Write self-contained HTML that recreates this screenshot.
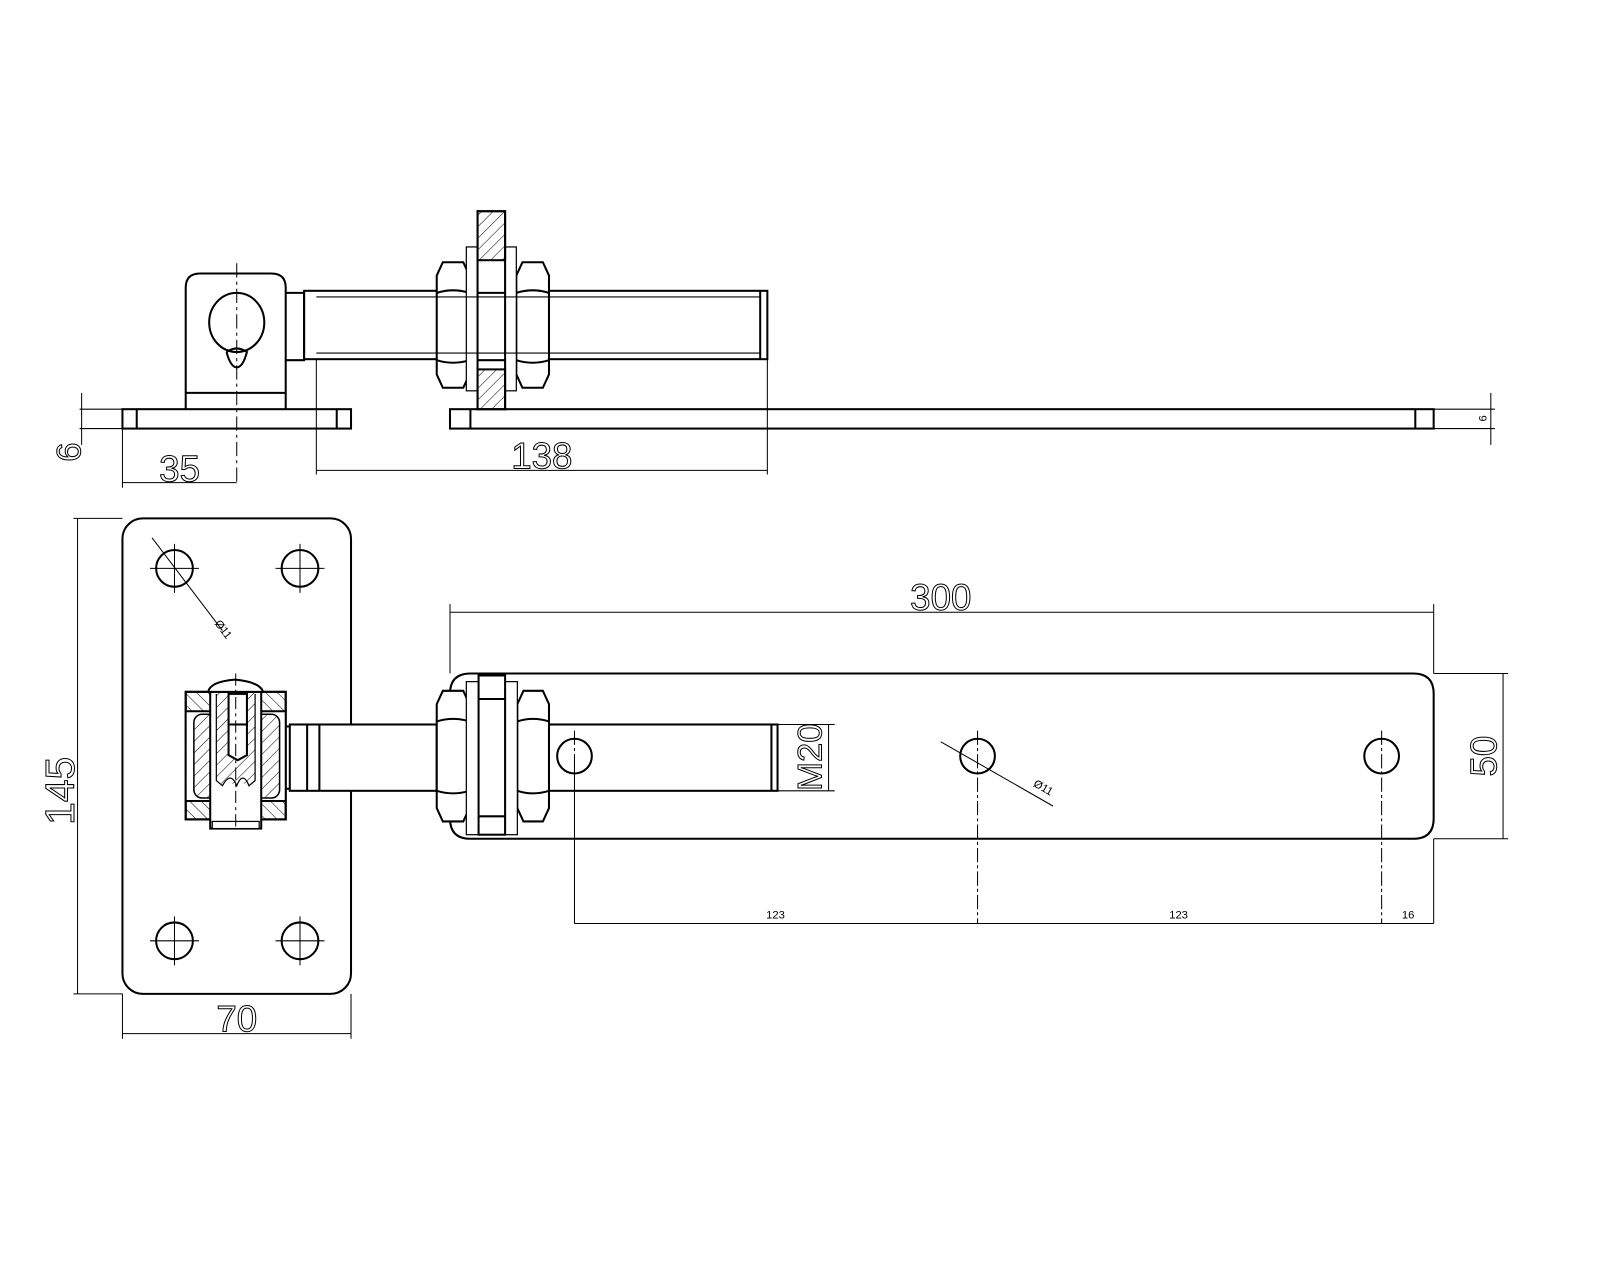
<!DOCTYPE html>
<html><head><meta charset="utf-8"><style>
html,body{margin:0;padding:0;background:#fff;width:1600px;height:1280px;overflow:hidden}
svg{display:block}
text{font-family:"Liberation Sans",sans-serif;fill:none;stroke:#000;stroke-width:1}
.s{fill:#000;stroke:none}
</style></head><body>
<svg width="1600" height="1280" viewBox="0 0 1568 1254.4" xmlns="http://www.w3.org/2000/svg">
<defs>
<pattern id="h" width="8" height="8" patternUnits="userSpaceOnUse" patternTransform="rotate(45)"><line x1="0" y1="0" x2="0" y2="8" stroke="#000" stroke-width="1"/></pattern>
<pattern id="h2" width="8" height="8" patternUnits="userSpaceOnUse" patternTransform="rotate(-45)"><line x1="0" y1="0" x2="0" y2="8" stroke="#000" stroke-width="1"/></pattern>
</defs>
<g fill="none" stroke="#000">
<!-- ===== TOP VIEW ===== -->
<g stroke-width="2">
<rect x="120" y="401" width="224" height="19"/>
<line x1="134" y1="401" x2="134" y2="420"/><line x1="330" y1="401" x2="330" y2="420"/>
<path d="M182 401 V282 Q182 268 196 268 H266 Q280 268 280 282 V401"/>
<line x1="182" y1="385" x2="280" y2="385"/>
<ellipse cx="232" cy="316" rx="27" ry="29"/>
<path d="M222 345 Q232 338 242 345 Q238 360 232 360 Q226 360 222 345"/>
<path d="M280 287 H298 V353 H280"/>
<rect x="298" y="285" width="454" height="67"/>
<line x1="745" y1="285" x2="745" y2="352"/>
<rect x="441" y="401" width="964" height="19"/>
<line x1="461" y1="401" x2="461" y2="420"/><line x1="1387" y1="401" x2="1387" y2="420"/>
<path d="M434 257 H454 L460 270 V367 L454 380 H434 L428 367 V270 Z" fill="#fff"/>
<path d="M428 287 Q444 282 460 287 M428 353 Q444 358 460 353"/>
<path d="M512 257 H532 L538 270 V367 L532 380 H512 L506 367 V270 Z" fill="#fff"/>
<path d="M506 287 Q522 282 538 287 M506 353 Q522 358 538 353"/>
<rect x="457" y="242" width="11" height="141" fill="#fff" stroke-width="1.2"/>
<rect x="495" y="242" width="11" height="141" fill="#fff" stroke-width="1.2"/>
<rect x="468" y="207" width="27" height="194" fill="#fff"/>
<rect x="468" y="207" width="27" height="48" fill="url(#h)"/>
<rect x="468" y="362" width="27" height="39" fill="url(#h)"/>
<line x1="468" y1="287" x2="495" y2="287"/><line x1="468" y1="353" x2="495" y2="353"/>
</g>
<line x1="310" y1="291" x2="745" y2="291" stroke-width="1"/>
<line x1="310" y1="346" x2="745" y2="346" stroke-width="1"/>
<line x1="232" y1="258" x2="232" y2="475" stroke-width="1" stroke-dasharray="14 4 3 4"/>
<g stroke-width="1">
<line x1="78" y1="401" x2="120" y2="401"/><line x1="78" y1="420" x2="120" y2="420"/>
<line x1="80" y1="385" x2="80" y2="436"/>
<line x1="120" y1="420" x2="120" y2="478"/><line x1="120" y1="473" x2="232" y2="473"/>
<line x1="310" y1="352" x2="310" y2="465"/><line x1="752" y1="352" x2="752" y2="465"/>
<line x1="310" y1="461" x2="752" y2="461"/>
<line x1="1405" y1="401" x2="1465" y2="401"/><line x1="1405" y1="420" x2="1465" y2="420"/>
<line x1="1461" y1="385" x2="1461" y2="436"/>
</g>
<text x="70" y="443" font-size="34" transform="rotate(-90 70 443)" text-anchor="middle" dominant-baseline="middle">6</text>
<text x="176" y="472" font-size="36" text-anchor="middle">35</text>
<text x="531" y="459" font-size="36" text-anchor="middle">138</text>
<text x="1454" y="410" font-size="11" transform="rotate(-90 1454 410)" text-anchor="middle" dominant-baseline="middle" class="s">6</text>

<!-- ===== PLAN VIEW ===== -->
<g stroke-width="2">
<rect x="120" y="508" width="224" height="466" rx="20"/>
<circle cx="171" cy="557" r="18"/><circle cx="294" cy="557" r="18"/>
<circle cx="171" cy="922" r="18"/><circle cx="294" cy="922" r="18"/>
<path d="M461 660 H1385 Q1405 660 1405 680 V802 Q1405 822 1385 822 H461 Q441 822 441 802 V680 Q441 660 461 660 Z"/>
<circle cx="563" cy="741" r="17"/><circle cx="958" cy="741" r="17"/><circle cx="1354" cy="741" r="17"/>
<path d="M280 712 H292 V773 H280"/>
<rect x="284" y="710" width="144" height="65" fill="#fff"/>
<line x1="301" y1="710" x2="301" y2="775"/><line x1="313" y1="710" x2="313" y2="775"/>
<rect x="538" y="710" width="224" height="65"/>
<line x1="756" y1="710" x2="756" y2="775"/>
<path d="M434 677 H454 L460 690 V792 L454 805 H434 L428 792 V690 Z" fill="#fff"/>
<path d="M428 707 Q444 702 460 707 M428 775 Q444 780 460 775"/>
<path d="M513 677 H532 L538 690 V792 L532 805 H513 L507 792 V690 Z" fill="#fff"/>
<path d="M507 707 Q522 702 538 707 M507 775 Q522 780 538 775"/>
<rect x="457" y="668" width="12" height="150" fill="#fff" stroke-width="1.2"/>
<rect x="495" y="668" width="12" height="150" fill="#fff" stroke-width="1.2"/>
<rect x="469" y="662" width="26" height="156" fill="#fff"/>
<line x1="469" y1="685" x2="495" y2="685"/><line x1="469" y1="800" x2="495" y2="800"/>
<rect x="182" y="678" width="98" height="125" fill="#fff"/>
<rect x="182" y="678" width="98" height="125" fill="url(#h2)"/>
<rect x="183" y="697" width="96" height="88" fill="#fff" stroke="none"/>
<rect x="190" y="700" width="84" height="82" rx="8" fill="url(#h)" stroke-width="1.5"/>
<line x1="182" y1="697" x2="280" y2="697"/><line x1="182" y1="785" x2="280" y2="785"/>
<rect x="206" y="678" width="50" height="134" fill="#fff"/>
<rect x="212" y="678" width="38" height="90" fill="url(#h)" stroke="none"/>
<path d="M212 680 V765 L218 770 Q226 755 232 770 Q238 755 244 770 L250 765 V680" stroke-width="1.2"/>
<rect x="224" y="680" width="18" height="30" fill="#fff"/>
<path d="M224 710 V740 L233 745 L242 740 V710 Z" fill="#fff"/>
<path d="M204 678 Q206 668 230 666 Q254 668 258 678 Z" fill="#fff"/>
<rect x="208" y="805" width="46" height="7" fill="#fff" stroke-width="1.2"/>
</g>
<line x1="231" y1="660" x2="231" y2="812" stroke-width="1" stroke-dasharray="12 4 3 4"/>
<g stroke-width="1">
<path d="M171 533 V581 M147 557 H195 M294 533 V581 M270 557 H318 M171 898 V946 M147 922 H195 M294 898 V946 M270 922 H318"/>
<path d="M563 716 V766 M958 716 V905 M1354 716 V905" stroke-dasharray="14 3 3 3"/>
<line x1="563" y1="741" x2="563" y2="905"/>
<line x1="149" y1="527" x2="218" y2="618"/>
<line x1="922" y1="727" x2="1032" y2="790"/>
<line x1="72" y1="508" x2="120" y2="508"/><line x1="72" y1="974" x2="120" y2="974"/>
<line x1="76" y1="508" x2="76" y2="974"/>
<line x1="120" y1="974" x2="120" y2="1018"/><line x1="344" y1="974" x2="344" y2="1018"/>
<line x1="120" y1="1013" x2="344" y2="1013"/>
<line x1="441" y1="592" x2="441" y2="660"/><line x1="1405" y1="592" x2="1405" y2="660"/>
<line x1="441" y1="600" x2="1405" y2="600"/>
<line x1="1405" y1="660" x2="1478" y2="660"/><line x1="1405" y1="822" x2="1478" y2="822"/>
<line x1="1473" y1="660" x2="1473" y2="822"/>
<line x1="762" y1="710" x2="818" y2="710"/><line x1="762" y1="775" x2="818" y2="775"/>
<line x1="812" y1="710" x2="812" y2="775"/>
<line x1="1405" y1="822" x2="1405" y2="905"/>
<line x1="563" y1="905" x2="1405" y2="905"/>
</g>
<text x="62" y="775" font-size="40" transform="rotate(-90 62 775)" text-anchor="middle" dominant-baseline="middle">145</text>
<text x="232" y="1011" font-size="36" text-anchor="middle">70</text>
<text x="922" y="598" font-size="36" text-anchor="middle">300</text>
<text x="1457" y="741" font-size="36" transform="rotate(-90 1457 741)" text-anchor="middle" dominant-baseline="middle">50</text>
<text x="796" y="742" font-size="34" transform="rotate(-90 796 742)" text-anchor="middle" dominant-baseline="middle">M20</text>
<text x="210" y="611" font-size="11" transform="rotate(53 210 611)" class="s">Ø11</text>
<text x="1012" y="770" font-size="11" transform="rotate(30 1012 770)" class="s">Ø11</text>
<text x="760" y="900" font-size="11" text-anchor="middle" class="s">123</text>
<text x="1155" y="900" font-size="11" text-anchor="middle" class="s">123</text>
<text x="1380" y="900" font-size="11" text-anchor="middle" class="s">16</text>
</g>
</svg>
</body></html>
